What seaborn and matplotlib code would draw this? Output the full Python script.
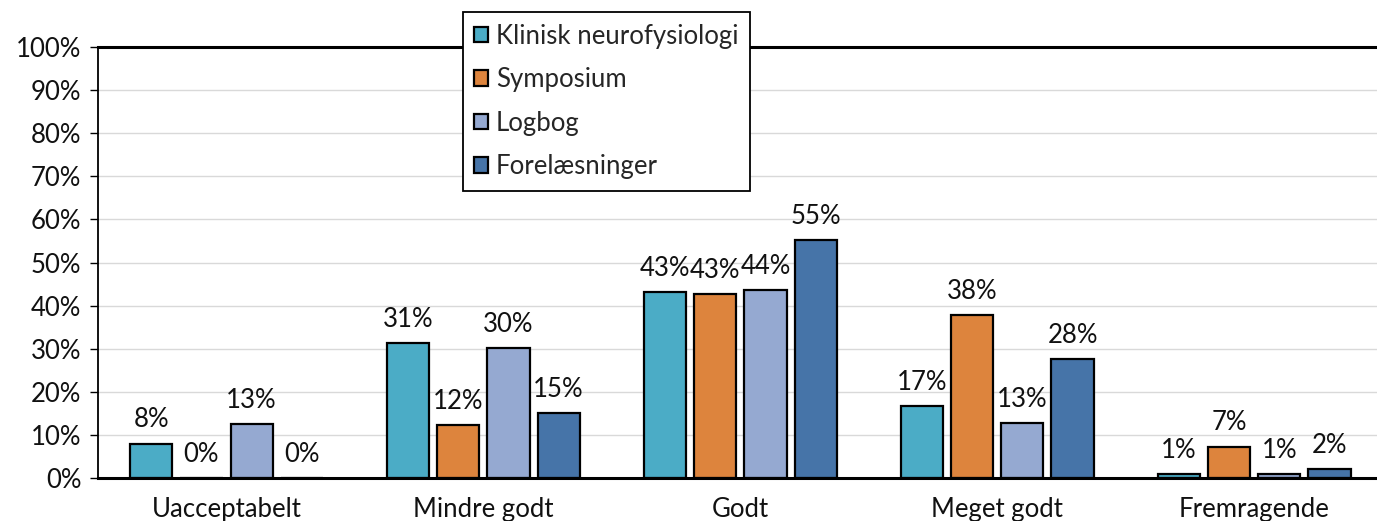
import matplotlib
matplotlib.use("Agg")
import matplotlib.pyplot as plt
import seaborn as sns
import pandas as pd
import numpy as np

categories = ["Uacceptabelt", "Mindre godt", "Godt", "Meget godt", "Fremragende"]
series = ["Klinisk neurofysiologi", "Symposium", "Logbog", "Forelæsninger"]
klinisk = [8.0, 31.4, 43.2, 16.7, 1.0]
symposium = [0.0, 12.3, 42.7, 37.8, 7.3]
logbog = [12.6, 30.2, 43.7, 12.7, 1.0]
forelaesninger = [0.0, 15.0, 55.3, 27.7, 2.1]
colors = ["#4BACC6", "#DD843D", "#95A9D1", "#4674A8"]
yticks = [0, 10, 20, 30, 40, 50, 60, 70, 80, 90, 100]

sns.set_theme(style="white")
plt.rcParams["font.family"] = ["Lato", "DejaVu Sans"]
FS = 18.5

rows = []
for s, vals in zip(series, [klinisk, symposium, logbog, forelaesninger]):
    for c, v in zip(categories, vals):
        rows.append({"Kategori": c, "Serie": s, "Andel": v})
df = pd.DataFrame(rows)

fig = plt.figure(figsize=(13.77, 5.21), dpi=100)
ax = fig.add_axes([0.0712, 0.0825, 0.933, 0.8273])

sns.barplot(data=df, x="Kategori", y="Andel", hue="Serie", order=categories,
            hue_order=series, palette=colors, width=0.78, gap=0.16,
            edgecolor="black", linewidth=1.6, errorbar=None, ax=ax, saturation=1)

for cont in ax.containers:
    labels = [f"{int(round(b.get_height()))}%" for b in cont]
    ax.bar_label(cont, labels=labels, padding=8, fontsize=FS, color="#111111")

ax.set_xlim(-0.5, 4.5)
ax.set_ylim(0, 100)
ax.set_yticks(yticks)
ax.set_yticklabels([f"{t}%" for t in yticks], fontsize=FS, color="#111111")
ax.tick_params(axis="y", which="both", left=True, length=6, width=1, color="black", pad=6)
ax.tick_params(axis="x", length=0, pad=14, labelsize=FS, labelcolor="#111111")
ax.set_xlabel("")
ax.set_ylabel("")
ax.yaxis.grid(True, color="#D9D9D9", linewidth=1)
ax.set_axisbelow(True)

for side in ["top", "bottom"]:
    ax.spines[side].set_visible(True)
    ax.spines[side].set_color("black")
    ax.spines[side].set_linewidth(2.2)
ax.spines["left"].set_color("black")
ax.spines["left"].set_linewidth(1.3)
ax.spines["right"].set_visible(False)

leg = ax.legend(loc="upper left", bbox_to_anchor=(0.336, 0.977),
                bbox_transform=fig.transFigure, frameon=True, fancybox=False,
                fontsize=FS, handlelength=0.55, handleheight=0.55,
                handletextpad=0.3, labelspacing=0.72, borderpad=0.45,
                borderaxespad=0, title=None)
leg.get_frame().set_edgecolor("black")
leg.get_frame().set_linewidth(1.3)
leg.get_frame().set_facecolor("white")
leg.get_frame().set_alpha(1)
leg.set_zorder(10)

fig.savefig("out.png", dpi=100)
